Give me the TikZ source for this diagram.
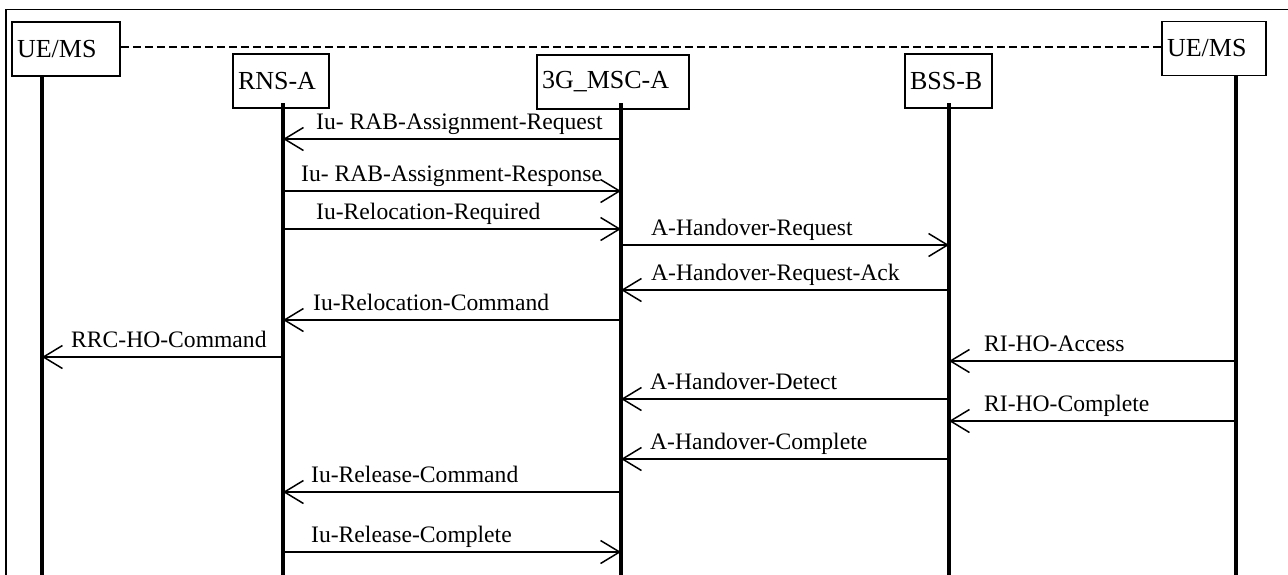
\documentclass[tikz,border=0pt]{standalone}
\usepackage{fontspec}
\setmainfont{Liberation Serif}
\usetikzlibrary{arrows.meta}
\tikzset{
  entity/.style={draw, line width=1.5pt, inner xsep=5pt, inner ysep=0pt,
    minimum height=54pt, text width=#1, align=left,
    font=\fontsize{26}{30}\selectfont},
  lifeline/.style={line width=3.5pt},
  msgline/.style={line width=1.5pt,
    -{Straight Barb[length=19pt,width=23pt,line width=1.5pt]}},
  msglabel/.style={anchor=base west, inner sep=0pt,
    font=\fontsize{23.6}{28}\selectfont},
  frameline/.style={line width=1.5pt},
  linkline/.style={line width=1.5pt, dash pattern=on 8pt off 4pt}
}
\newcommand\sqmsg[5]{%
  \coordinate (ytmp) at (0,#3);
  \draw[msgline] (#1 |- ytmp) -- (#2 |- ytmp);
  \node[msglabel] at (#4,#3-10) {#5};}
\begin{document}
\begin{tikzpicture}[x=1pt,y=-1pt]
\useasboundingbox (0,0) rectangle (1288,574);
% frame
\coordinate (frTL) at (6,9.5);
\coordinate (frBL) at (6,580);
\coordinate (frTR) at (1295,9.5);
\draw[frameline] (frBL) -- (frTL) -- (frTR);
% entities
\node[entity=98pt]  (uel) at (66,49)    {UE/MS};
\node[entity=86pt]  (rns) at (281,81)   {RNS-A};
\node[entity=142pt] (msc) at (613,82)   {3G\_MSC-A};
\node[entity=77pt]  (bss) at (948.5,81) {BSS-B};
\node[entity=94pt]  (uer) at (1214,48.5){UE/MS};
% dashed link between the two UE/MS
\draw[linkline] (uel.east |- 0,47) -- (uer.west |- 0,47);
% lifeline tops
\coordinate (uelL) at (42,76);
\coordinate (rnsL) at (283,103);
\coordinate (mscL) at (621,103);
\coordinate (bssL) at (949,103);
\coordinate (uerL) at (1236,75);
\coordinate (bottom) at (0,576);
\foreach \l in {uelL,rnsL,mscL,bssL,uerL}
  \draw[lifeline] (\l) -- (\l |- bottom);
% messages
\sqmsg{mscL}{rnsL}{139}{316}{Iu- RAB-Assignment-Request}
\sqmsg{rnsL}{mscL}{191}{301}{Iu- RAB-Assignment-Response}
\sqmsg{rnsL}{mscL}{229}{316}{Iu-Relocation-Required}
\sqmsg{mscL}{bssL}{245}{651}{A-Handover-Request}
\sqmsg{bssL}{mscL}{290}{651}{A-Handover-Request-Ack}
\sqmsg{mscL}{rnsL}{320}{313}{Iu-Relocation-Command}
\sqmsg{rnsL}{uelL}{357}{71}{RRC-HO-Command}
\sqmsg{uerL}{bssL}{361}{984}{RI-HO-Access}
\sqmsg{bssL}{mscL}{399}{650}{A-Handover-Detect}
\sqmsg{uerL}{bssL}{421}{984}{RI-HO-Complete}
\sqmsg{bssL}{mscL}{459}{650}{A-Handover-Complete}
\sqmsg{mscL}{rnsL}{492}{311}{Iu-Release-Command}
\sqmsg{rnsL}{mscL}{552}{311}{Iu-Release-Complete}
\end{tikzpicture}
\end{document}
